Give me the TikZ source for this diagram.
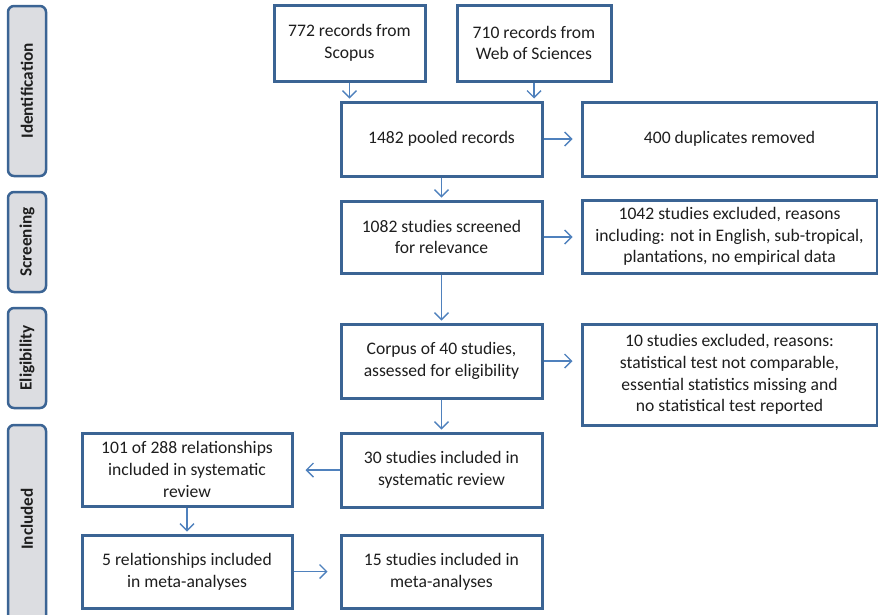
\documentclass[tikz,border=0pt]{standalone}
\usepackage{fontspec}
\setmainfont{Carlito}
\usetikzlibrary{arrows.meta}
\definecolor{boxblue}{HTML}{3B6494}
\definecolor{arrblue}{HTML}{4F81BD}
\definecolor{barfill}{HTML}{DCDDE1}
\definecolor{txt}{HTML}{1E1E1E}
\begin{document}
\begin{tikzpicture}[x=1pt,y=-1pt,
  flowbox/.style={draw=boxblue,line width=3pt,fill=white,align=center,text=txt,
    font=\fontsize{17.6}{21.6}\selectfont,inner sep=2pt},
  sidebar/.style={draw=boxblue,line width=2.5pt,fill=barfill,rounded corners=6pt,
    minimum width=38pt,text=txt},
  sidelabel/.style={rotate=90,font=\fontsize{17.2}{20}\selectfont\bfseries,text=txt},
  arr/.style={draw=arrblue,line width=1.4pt,-{Straight Barb[length=7pt,width=14pt,line width=1.4pt]}}]
\useasboundingbox (0,0) rectangle (878,614);

% side bars
\node[sidebar,minimum height=170pt] (bid) at (27,91) {};
\node[sidelabel] (lid) at (bid.center) {Identification};
\node[sidebar,minimum height=100pt] (bsc) at (27,242) {};
\node[sidelabel] (lsc) at (bsc.center) {Screening};
\node[sidebar,minimum height=100pt] (bel) at (27,358) {};
\node[sidelabel] (lel) at (bel.center) {Eligibility};
\node[sidebar,minimum height=200pt] (bin) at (27,525) {};
\node[sidelabel] (lin) at (27,519) {Included};

% boxes
\node[flowbox,minimum width=151pt,minimum height=76pt] (scopus) at (349.5,43) {772 records from\\Scopus};
\node[flowbox,minimum width=154pt,minimum height=76pt] (wos) at (534,43) {710 records from\\Web of Sciences};
\node[flowbox,minimum width=201pt,minimum height=74pt] (pooled) at (441.5,139) {1482 pooled records};
\node[flowbox,minimum width=295pt,minimum height=74pt] (dup) at (729.5,139) {400 duplicates removed};
\node[flowbox,minimum width=201pt,minimum height=72pt] (screen) at (441.5,237) {1082 studies screened\\for relevance};
\node[flowbox,minimum width=295pt,minimum height=73pt] (excla) at (729.5,236.5) {1042 studies excluded, reasons\\including: not in English, sub-tropical,\\plantations, no empirical data};
\node[flowbox,minimum width=201pt,minimum height=74pt] (corpus) at (441.5,361) {Corpus of 40 studies,\\assessed for eligibility};
\node[flowbox,minimum width=295pt,minimum height=101pt] (exclb) at (729.5,374.5) {10 studies excluded, reasons:\\statistical test not comparable,\\essential statistics missing and\\no statistical test reported};
\node[flowbox,minimum width=201pt,minimum height=74pt] (sys) at (441.5,470) {30 studies included in\\systematic review};
\node[flowbox,minimum width=210pt,minimum height=73pt] (rel) at (187,469.5) {101 of 288 relationships\\included in systematic\\review};
\node[flowbox,minimum width=210pt,minimum height=73pt] (relm) at (187,571.5) {5 relationships included\\in meta-analyses};
\node[flowbox,minimum width=201pt,minimum height=73pt] (meta) at (441.5,571.5) {15 studies included in\\meta-analyses};

% connectors
\draw[arr,shorten >=2pt] (scopus.south) -- (scopus.south |- pooled.north);
\draw[arr,shorten >=2pt] (wos.south) -- (wos.south |- pooled.north);
\draw[arr,shorten >=8pt] (pooled.east) -- (dup.west |- pooled.east);
\draw[arr,shorten >=2pt] (pooled.south) -- (screen.north);
\draw[arr,shorten >=8pt] (screen.east) -- (excla.west |- screen.east);
\draw[arr,shorten >=2pt] (screen.south) -- (corpus.north);
\draw[arr,shorten >=8pt] (corpus.east) -- (exclb.west |- corpus.east);
\draw[arr,shorten >=2pt] (corpus.south) -- (sys.north);
\draw[arr,shorten >=12pt] (sys.west) -- (rel.east |- sys.west);
\draw[arr,shorten >=2pt] (rel.south) -- (relm.north);
\draw[arr,shorten >=12pt] (relm.east) -- (meta.west |- relm.east);
\end{tikzpicture}
\end{document}
